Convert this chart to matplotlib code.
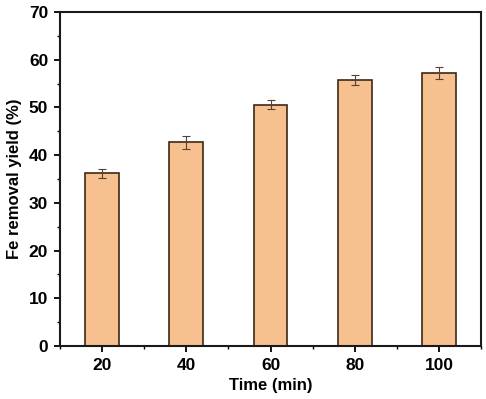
import numpy as np
import matplotlib
matplotlib.use('Agg')
import matplotlib.pyplot as plt
from matplotlib.ticker import MultipleLocator

plt.rcParams['font.family'] = ['Liberation Sans', 'DejaVu Sans']
plt.rcParams['font.weight'] = 'bold'

time_min = [20, 40, 60, 80, 100]
fe_yield = [36.2, 42.7, 50.6, 55.8, 57.2]
fe_err = [0.9, 1.4, 0.9, 1.0, 1.2]

fig = plt.figure(figsize=(4.86, 3.99), dpi=100)
ax = fig.add_axes([0.1235, 0.1328, 0.8662, 0.8371])

ax.bar(time_min, fe_yield, width=8, color='#f7c08f', edgecolor='#3e2818', linewidth=1.2,
       yerr=fe_err, error_kw=dict(ecolor='#5a4030', elinewidth=0.8, capsize=3, capthick=0.8))

ax.set_xlim(10, 110)
ax.set_ylim(0, 70)
ax.set_xticks(time_min)
ax.xaxis.set_minor_locator(MultipleLocator(10))
ax.yaxis.set_major_locator(MultipleLocator(10))
ax.yaxis.set_minor_locator(MultipleLocator(5))
ax.tick_params(which='major', direction='out', length=4.5, width=1.3, labelsize=12.5, pad=4)
ax.tick_params(which='minor', direction='out', length=2.5, width=1.0)
for lab in ax.get_xticklabels() + ax.get_yticklabels():
    lab.set_fontweight('bold')
for s in ax.spines.values():
    s.set_linewidth(1.5)
    s.set_color('#1a1a1a')

ax.set_xlabel('Time (min)', fontsize=12, fontweight='bold', labelpad=4)
ax.set_ylabel('Fe removal yield (%)', fontsize=12, fontweight='bold', labelpad=5)

fig.savefig('out.png', dpi=100)
